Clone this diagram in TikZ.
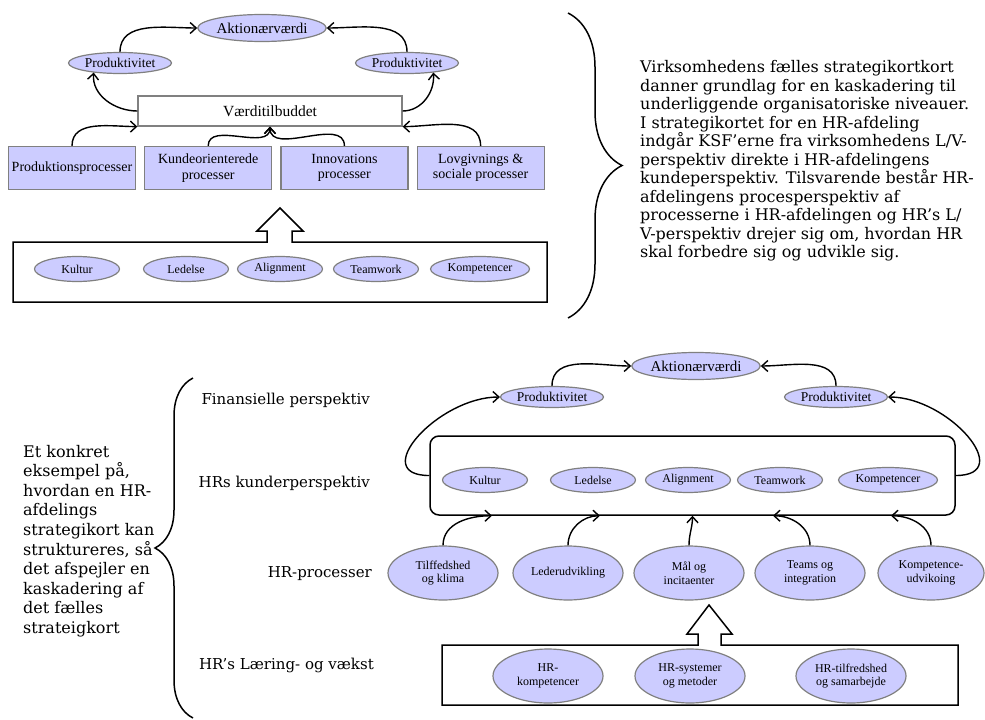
\documentclass[tikz,border=0pt]{standalone}
\usepackage{fontspec}
\setmainfont{Liberation Serif}
\newfontfamily\parafont{DejaVu Serif}
\usepackage{tikz}
\usetikzlibrary{arrows.meta,positioning,shapes.geometric,decorations.pathreplacing}
\definecolor{lav}{HTML}{CCCCFF}
\definecolor{rimg}{HTML}{808080}
\tikzset{
  oval/.style={ellipse, draw=rimg, fill=lav, line width=1.2pt, inner sep=0pt,
               align=center, font=\fontsize{12}{13.5}\selectfont},
  ovsm/.style={oval, minimum width=85pt, minimum height=25pt},
  ovbig/.style={oval, minimum width=110pt, minimum height=54pt},
  ovtop/.style={oval, minimum width=103pt, minimum height=21pt, font=\fontsize{13.5}{15}\selectfont},
  ovakt/.style={oval, minimum width=125pt, minimum height=27pt, font=\fontsize{15}{17}\selectfont},
  procbox/.style={rectangle, draw=rimg, fill=lav, line width=1.2pt, minimum width=127pt,
                  minimum height=43pt, align=center, inner sep=2pt, font=\fontsize{14}{15.5}\selectfont},
  fl/.style={-{Straight Barb[length=6pt,width=11pt]}, line width=1.4pt},
  frame/.style={line width=1.5pt},
  perlbl/.style={anchor=east, inner sep=0pt, font=\parafont\fontsize{15}{17}\selectfont},
  txt/.style={anchor=west, align=left, inner sep=0pt},
  brc/.style={decorate, decoration={brace, amplitude=#1}, line width=1.5pt},
}

\begin{document}
\begin{tikzpicture}[x=1pt, y=1pt, node distance=8pt]
  \useasboundingbox (0,0) rectangle (985,-720);

  % --- virksomhedens strategikort
  \node[ovakt] (akt) at (262,-28) {Aktionærværdi};
  \node[ovtop] (prodL) at (120,-63) {Produktivitet};
  \node[ovtop] (prodR) at (407,-63) {Produktivitet};
  \node[rectangle, draw=rimg, fill=white, line width=1.2pt, minimum width=264pt, minimum height=30pt,
        font=\fontsize{15.5}{17}\selectfont] (vt) at (270,-111) {Værditilbuddet};
  \node[procbox] (pp1) at (72,-168) {Produktionsprocesser};
  \node[procbox, right=of pp1] (pp2) {Kundeorienterede\\processer};
  \node[procbox, right=of pp2] (pp3) {Innovations\\processer};
  \node[procbox, right=of pp3] (pp4) {Lovgivnings \&\\sociale processer};
  \draw[fl] (prodL.north) to[out=90,in=180] (akt.west);
  \draw[fl] (prodR.north) to[out=90,in=0] (akt.east);
  \draw[fl] (vt.west) to[out=180,in=-95] (prodL.200);
  \draw[fl] (vt.east) to[out=0,in=-85] (prodR.-20);
  \draw[fl] (pp1.north) to[out=90,in=180] (vt.south west);
  \draw[fl] (pp2.north) to[out=90,in=-90] (vt.south);
  \draw[fl] (pp3.north) to[out=90,in=-90] (vt.south);
  \draw[fl] (pp4.north) to[out=90,in=0] (vt.south east);

  \draw[frame] (13,-242) -- (267,-242) -- (267,-231) -- (257,-231) -- (280,-208) -- (303,-231)
    -- (292,-231) -- (292,-242) -- (547,-242) -- (547,-302) -- (13,-302) -- cycle;
  \node[ovsm] (ku) at (77,-269) {Kultur};
  \node[ovsm] (le) at (186,-269) {Ledelse};
  \node[ovsm] (al) at (280,-269) {Alignment};
  \node[ovsm] (te) at (376,-269) {Teamwork};
  \node[ovsm, minimum width=99pt] (ko) at (480,-269) {Kompetencer};

  \draw[brc=54pt] (568,-13) -- (568,-318);
  \node[txt, font=\parafont\fontsize{16}{18.5}\selectfont] (vtxt) at (640,-161)
    {Virksomhedens fælles strategikortkort\\
     danner grundlag for en kaskadering til\\
     underliggende organisatoriske niveauer.\\
     I strategikortet for en HR-afdeling\\
     indgår KSF’erne fra virksomhedens L/V-\\
     perspektiv direkte i HR-afdelingens\\
     kundeperspektiv. Tilsvarende består HR-\\
     afdelingens procesperspektiv af\\
     processerne i HR-afdelingen og HR’s L/\\
     V-perspektiv drejer sig om, hvordan HR\\
     skal forbedre sig og udvikle sig.};

  % --- HR-afdelingens strategikort
  \node[txt, font=\parafont\fontsize{16}{19.6}\selectfont] (htxt) at (23,-541)
    {Et konkret\\ eksempel på,\\ hvordan en HR-\\ afdelings\\ strategikort kan\\
     struktureres, så\\ det afspejler en\\ kaskadering af\\ det fælles\\ strateigkort};
  \draw[brc=38pt] (193,-718) -- (193,-378);
  \node[perlbl] (fin) at (370,-400) {Finansielle perspektiv};
  \node[perlbl] (kun) at (370,-483) {HRs kunderperspektiv};
  \node[perlbl] (pro) at (372,-574) {HR-processer};
  \node[perlbl] (lv) at (374,-665) {HR’s Læring- og vækst};

  \node[ovakt] (akt2) at (696,-366) {Aktionærværdi};
  \node[ovtop] (prodL2) at (552,-397) {Produktivitet};
  \node[ovtop] (prodR2) at (836,-397) {Produktivitet};
  \node[draw, line width=1.5pt, rounded corners=9pt, minimum width=525pt, minimum height=79pt]
    (kunde) at (692.5,-475.5) {};
  \node[ovsm] (ku2) at (485,-480) {Kultur};
  \node[ovsm] (le2) at (593,-480) {Ledelse};
  \node[ovsm] (al2) at (688,-480) {Alignment};
  \node[ovsm] (te2) at (780,-480) {Teamwork};
  \node[ovsm, minimum width=99pt] (ko2) at (888,-480) {Kompetencer};
  \draw[fl] (prodL2.north) to[out=90,in=180] (akt2.west);
  \draw[fl] (prodR2.north) to[out=90,in=0] (akt2.east);
  \draw[fl] (kunde.west) to[out=180,in=180,looseness=1.5] (prodL2.west);
  \draw[fl] (kunde.east) to[out=0,in=0,looseness=1.5] (prodR2.east);

  \node[ovbig] (t1) at (443,-573) {Tilffedshed\\og klima};
  \node[ovbig] (t2) at (568,-573) {Lederudvikling};
  \node[ovbig] (t3) at (689,-573) {Mål og\\incitaenter};
  \node[ovbig] (t4) at (810,-573) {Teams og\\integration};
  \node[ovbig, minimum width=106pt] (t5) at (931,-573) {Kompetence-\\udvikoing};
  \draw[fl] (t1.north) to[out=90,in=180] ([xshift=-200.5pt]kunde.south);
  \draw[fl] (t2.north) to[out=90,in=180] ([xshift=-92.5pt]kunde.south);
  \draw[fl] (t3.north) to[out=90,in=-90] (kunde.south);
  \draw[fl] (t4.north) to[out=90,in=0] ([xshift=80.5pt]kunde.south);
  \draw[fl] (t5.north) to[out=90,in=0] ([xshift=198.5pt]kunde.south);

  \draw[frame] (442,-645) -- (698,-645) -- (698,-634) -- (687,-634) -- (709,-605) -- (732,-634)
    -- (721,-634) -- (721,-645) -- (958,-645) -- (958,-705) -- (442,-705) -- cycle;
  \node[ovbig] (h1) at (548,-676) {HR-\\kompetencer};
  \node[ovbig] (h2) at (690,-676) {HR-systemer\\og metoder};
  \node[ovbig] (h3) at (851,-676) {HR-tilfredshed\\og samarbejde};
\end{tikzpicture}
\end{document}
